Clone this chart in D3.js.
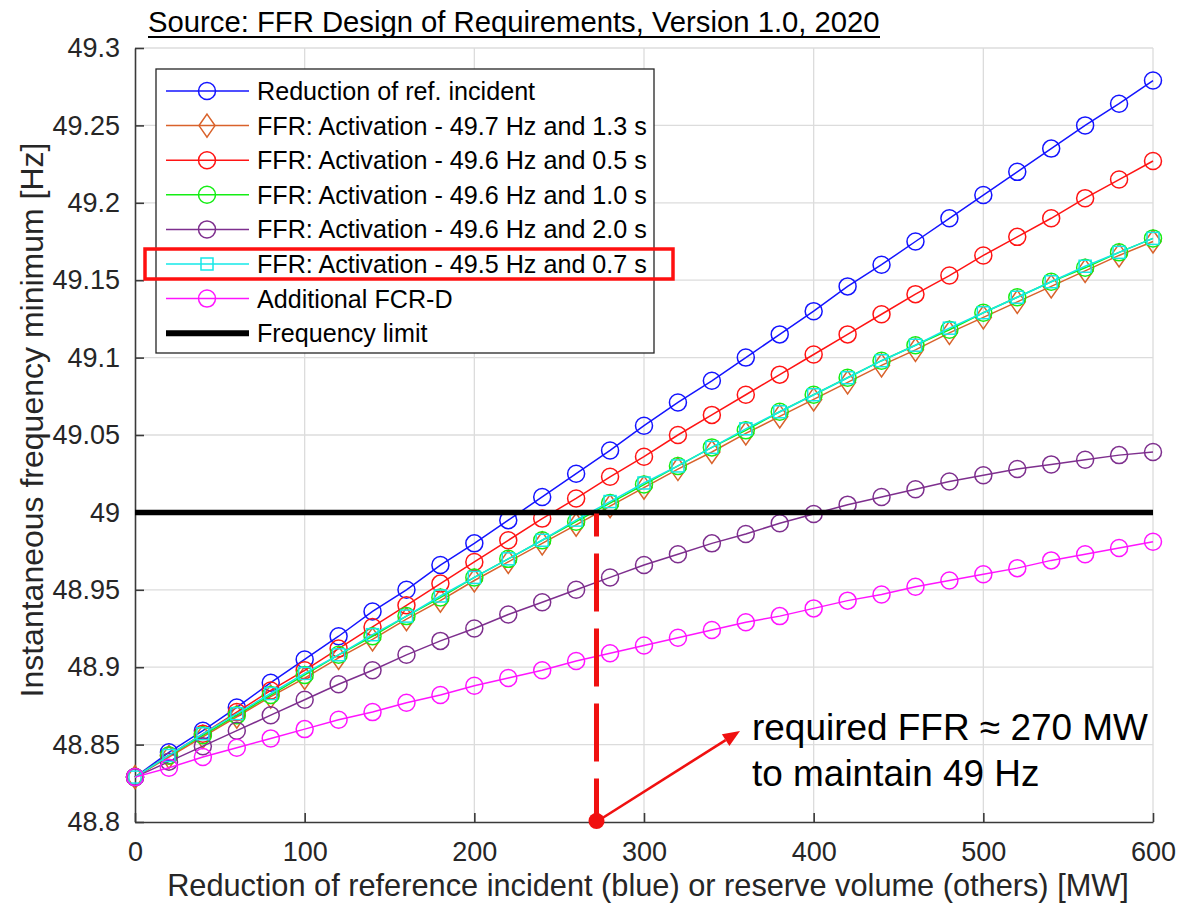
<!DOCTYPE html>
<html>
<head>
<meta charset="utf-8">
<script src="https://cdn.jsdelivr.net/npm/d3@7"></script>
<style>
  body { margin: 0; background: #ffffff; }
  svg { display: block; font-family: "Liberation Sans", Arial, Helvetica, sans-serif; }
</style>
</head>
<body>
<svg id="chart" width="1179" height="906"></svg>
<script>
// Reserve volume / incident reduction steps [MW]
const reserveMW = [0, 20, 40, 60, 80, 100, 120, 140, 160, 180, 200, 220, 240, 260, 280, 300,
                   320, 340, 360, 380, 400, 420, 440, 460, 480, 500, 520, 540, 560, 580, 600];

// Instantaneous frequency minimum [Hz] for each case
const refIncident = [48.829, 48.845, 48.859, 48.874, 48.890, 48.905, 48.920, 48.936, 48.950, 48.966,
                     48.980, 48.995, 49.010, 49.025, 49.040, 49.056, 49.071, 49.085, 49.100, 49.115,
                     49.130, 49.146, 49.160, 49.175, 49.190, 49.205, 49.220, 49.235, 49.250, 49.264, 49.279];
const ffr497_13 = [48.829, 48.842, 48.855, 48.868, 48.881, 48.893, 48.906, 48.918, 48.931, 48.943,
                   48.956, 48.968, 48.980, 48.992, 49.004, 49.016, 49.028, 49.039, 49.051, 49.062,
                   49.073, 49.084, 49.095, 49.105, 49.116, 49.126, 49.136, 49.146, 49.156, 49.166, 49.175];
const ffr496_05 = [48.829, 48.843, 48.857, 48.871, 48.885, 48.898, 48.912, 48.926, 48.940, 48.954,
                   48.968, 48.982, 48.996, 49.009, 49.023, 49.036, 49.050, 49.063, 49.076, 49.089,
                   49.102, 49.115, 49.128, 49.141, 49.153, 49.166, 49.178, 49.190, 49.203, 49.215, 49.227];
const ffr496_10 = [48.829, 48.843, 48.856, 48.869, 48.882, 48.895, 48.908, 48.920, 48.933, 48.945,
                   48.958, 48.970, 48.982, 48.994, 49.006, 49.018, 49.030, 49.042, 49.053, 49.065,
                   49.076, 49.087, 49.098, 49.108, 49.118, 49.129, 49.139, 49.149, 49.158, 49.168, 49.177];
const ffr496_20 = [48.829, 48.839, 48.849, 48.859, 48.869, 48.879, 48.889, 48.898, 48.908, 48.917,
                   48.925, 48.934, 48.942, 48.950, 48.958, 48.966, 48.973, 48.980, 48.986, 48.993,
                   48.999, 49.005, 49.010, 49.015, 49.020, 49.024, 49.028, 49.031, 49.034, 49.037, 49.039];
const ffr495_07 = [48.829, 48.843, 48.857, 48.870, 48.883, 48.896, 48.908, 48.921, 48.933, 48.946,
                   48.958, 48.970, 48.982, 48.995, 49.007, 49.019, 49.030, 49.042, 49.054, 49.065,
                   49.076, 49.087, 49.098, 49.108, 49.119, 49.129, 49.139, 49.149, 49.159, 49.168, 49.177];
const additionalFCRD = [48.829, 48.835, 48.842, 48.848, 48.854, 48.860, 48.866, 48.871, 48.877, 48.882,
                        48.888, 48.893, 48.898, 48.904, 48.909, 48.914, 48.919, 48.924, 48.929, 48.933,
                        48.938, 48.943, 48.947, 48.952, 48.956, 48.960, 48.964, 48.969, 48.973, 48.977, 48.981];

const seriesNames = [
  "Reduction of ref. incident",
  "FFR: Activation - 49.7 Hz and 1.3 s",
  "FFR: Activation - 49.6 Hz and 0.5 s",
  "FFR: Activation - 49.6 Hz and 1.0 s",
  "FFR: Activation - 49.6 Hz and 2.0 s",
  "FFR: Activation - 49.5 Hz and 0.7 s",
  "Additional FCR-D"
];
const limitName = "Frequency limit";
const frequencyLimit = 49;
const requiredFFR = 272;

const xTicks = [0, 100, 200, 300, 400, 500, 600];
const yTicks = [48.8, 48.85, 48.9, 48.95, 49, 49.05, 49.1, 49.15, 49.2, 49.25, 49.3];

const titleText = "Source: FFR Design of Requirements, Version 1.0, 2020";
const xLabel = "Reduction of reference incident (blue) or reserve volume (others) [MW]";
const yLabel = "Instantaneous frequency minimum [Hz]";
const noteLines = ["required FFR \u2248 270 MW", "to maintain 49 Hz"];

// ---- styling ----
const seriesValues = [refIncident, ffr497_13, ffr496_05, ffr496_10, ffr496_20, ffr495_07, additionalFCRD];
const seriesColors = ["#1414ff", "#d9622b", "#ff1414", "#14ee14", "#7e2f8e", "#14e8e8", "#ff14ff"];
const seriesMarkers = ["circle", "diamond", "circle", "circle", "circle", "square", "circle"];

const svg = d3.select("#chart");
const plot = { left: 135, right: 1153, top: 48, bottom: 822 };

const x = d3.scaleLinear().domain([0, 600]).range([plot.left, plot.right]);
const y = d3.scaleLinear().domain([48.8, 49.3]).range([plot.bottom, plot.top]);

function fitWidth(sel, target) {
  const len = sel.node().getComputedTextLength();
  const fs = parseFloat(sel.attr("font-size"));
  sel.attr("font-size", fs * target / len);
  return fs * target / len;
}

// ---- grid ----
const grid = svg.append("g").attr("stroke", "#dcdcdc").attr("stroke-width", 1.3);
grid.selectAll("line.gx").data(xTicks.slice(1)).join("line")
  .attr("x1", d => x(d)).attr("x2", d => x(d))
  .attr("y1", plot.top).attr("y2", plot.bottom);
grid.selectAll("line.gy").data(yTicks.slice(1)).join("line")
  .attr("x1", plot.left).attr("x2", plot.right)
  .attr("y1", d => y(d)).attr("y2", d => y(d));

// ---- axes ----
const axisColor = "#3a3a3a";
const xAxis = svg.append("g").attr("transform", `translate(0,${plot.bottom})`)
  .call(d3.axisBottom(x).tickValues(xTicks).tickSizeInner(-9).tickSizeOuter(0).tickPadding(20).tickFormat(d3.format("d")));
const yAxis = svg.append("g").attr("transform", `translate(${plot.left},0)`)
  .call(d3.axisLeft(y).tickValues(yTicks).tickSizeInner(-9).tickSizeOuter(0).tickPadding(15).tickFormat(d => String(+d.toFixed(2))));
[xAxis, yAxis].forEach(g => {
  g.select(".domain").attr("stroke", axisColor).attr("stroke-width", 1.6);
  g.selectAll(".tick line").attr("stroke", axisColor).attr("stroke-width", 1.6);
  g.selectAll(".tick text").attr("fill", "#262626").attr("font-size", 27)
    .attr("font-family", "'Liberation Sans', Arial, sans-serif");
});
xAxis.selectAll(".tick text").attr("dy", "0.71em").attr("y", 20);
yAxis.selectAll(".tick text").attr("x", -15);

// axis labels
const xl = svg.append("text").attr("x", 648).attr("y", 896).attr("text-anchor", "middle")
  .attr("font-size", 28).attr("fill", "#262626").text(xLabel);
fitWidth(xl, 962);
const yl = svg.append("text").attr("transform", `translate(43,420) rotate(-90)`)
  .attr("text-anchor", "middle").attr("font-size", 30).attr("fill", "#262626").text(yLabel);
fitWidth(yl, 555);

// ---- title ----
const tt = svg.append("text").attr("x", 148).attr("y", 32).attr("font-size", 28).attr("fill", "#000").text(titleText);
fitWidth(tt, 732);
svg.append("line").attr("x1", 148).attr("x2", 880).attr("y1", 37).attr("y2", 37)
  .attr("stroke", "#000").attr("stroke-width", 2);

// ---- series ----
function drawMarker(g, type, color) {
  if (type === "circle") {
    g.append("circle").attr("r", 8.5).attr("fill", "none").attr("stroke", color).attr("stroke-width", 1.5);
  } else if (type === "diamond") {
    g.append("path").attr("d", "M0,-11.5L8,0L0,11.5L-8,0Z").attr("fill", "none").attr("stroke", color).attr("stroke-width", 1.5);
  } else if (type === "square") {
    g.append("rect").attr("x", -6).attr("y", -6).attr("width", 12).attr("height", 12)
      .attr("fill", "none").attr("stroke", color).attr("stroke-width", 1.5);
  }
}

const line = d3.line().x((d, i) => x(reserveMW[i])).y(d => y(d));
const seriesG = svg.append("g");
seriesValues.forEach((vals, s) => {
  const g = seriesG.append("g");
  g.append("path").attr("d", line(vals)).attr("fill", "none")
    .attr("stroke", seriesColors[s]).attr("stroke-width", 1.5);
  vals.forEach((v, i) => {
    const m = g.append("g").attr("transform", `translate(${x(reserveMW[i])},${y(v)})`);
    drawMarker(m, seriesMarkers[s], seriesColors[s]);
  });
});

// frequency limit
svg.append("line").attr("x1", x(0)).attr("x2", x(600)).attr("y1", y(frequencyLimit)).attr("y2", y(frequencyLimit))
  .attr("stroke", "#000").attr("stroke-width", 5.5);

// ---- required FFR marker ----
const ann = "#f01010";
svg.append("line").attr("x1", x(requiredFFR)).attr("x2", x(requiredFFR))
  .attr("y1", y(frequencyLimit) + 1).attr("y2", y(48.8))
  .attr("stroke", ann).attr("stroke-width", 5).attr("stroke-dasharray", "58,17").attr("stroke-dashoffset", 35);
svg.append("circle").attr("cx", x(requiredFFR)).attr("cy", y(48.8) - 1).attr("r", 8).attr("fill", ann);

// arrow from the dot to the note
const ax0 = x(requiredFFR) + 6, ay0 = y(48.8) - 4, ax1 = 740, ay1 = 731;
const ang = Math.atan2(ay1 - ay0, ax1 - ax0);
const hl = 17, hw = 7;
const bx = ax1 - hl * Math.cos(ang), by = ay1 - hl * Math.sin(ang);
svg.append("line").attr("x1", ax0).attr("y1", ay0).attr("x2", bx).attr("y2", by)
  .attr("stroke", ann).attr("stroke-width", 2.6);
svg.append("path").attr("fill", ann).attr("d",
  `M${ax1},${ay1}L${bx - hw * Math.sin(ang)},${by + hw * Math.cos(ang)}L${bx + hw * Math.sin(ang)},${by - hw * Math.cos(ang)}Z`);

const n1 = svg.append("text").attr("x", 752).attr("y", 740).attr("font-size", 36).attr("fill", "#000").text(noteLines[0]);
const noteFs = fitWidth(n1, 396);
svg.append("text").attr("x", 752).attr("y", 786).attr("font-size", noteFs).attr("fill", "#000").text(noteLines[1]);

// ---- legend ----
const lg = svg.append("g");
lg.append("rect").attr("x", 156).attr("y", 69).attr("width", 498).attr("height", 284)
  .attr("fill", "#fff").attr("stroke", "#262626").attr("stroke-width", 1.3);
const rowY = i => 91 + i * 34.6;
const legendItems = seriesNames.map((n, i) => ({ name: n, color: seriesColors[i], marker: seriesMarkers[i], width: 1.5 }))
  .concat([{ name: limitName, color: "#000", marker: null, width: 6 }]);
let legendFs = 25;
legendItems.forEach((d, i) => {
  const g = lg.append("g").attr("transform", `translate(0,${rowY(i)})`);
  g.append("line").attr("x1", 166).attr("x2", 249).attr("y1", 0).attr("y2", 0)
    .attr("stroke", d.color).attr("stroke-width", d.width);
  if (d.marker) {
    const m = g.append("g").attr("transform", "translate(207,0)");
    drawMarker(m, d.marker, d.color);
  }
  const t = g.append("text").attr("x", 257).attr("y", 0).attr("dy", "0.36em")
    .attr("font-size", legendFs).attr("fill", "#000").text(d.name);
  if (i === 1) legendFs = fitWidth(t, 390);
});
lg.selectAll("text").attr("font-size", legendFs);

// highlight around the 49.5 Hz / 0.7 s entry
lg.append("rect").attr("x", 145).attr("y", rowY(5) - 15).attr("width", 528).attr("height", 30)
  .attr("fill", "none").attr("stroke", "#ff1010").attr("stroke-width", 3.5);
</script>
</body>
</html>
